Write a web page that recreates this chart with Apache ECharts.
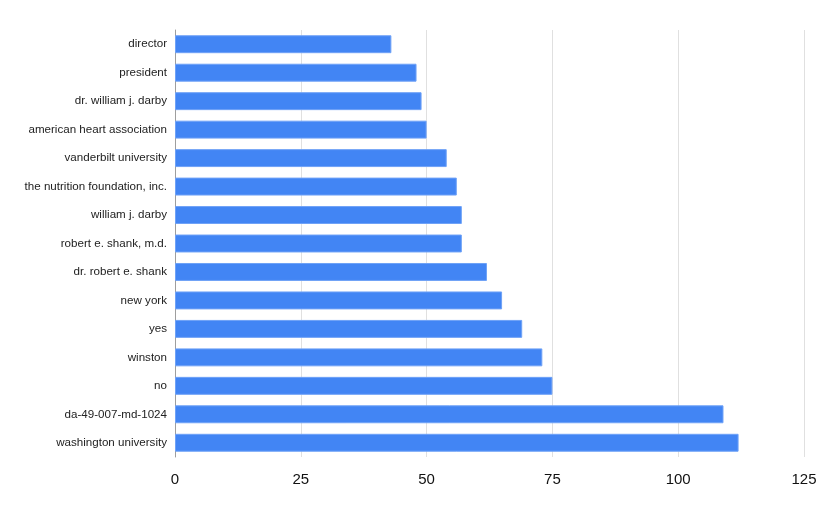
<!DOCTYPE html>
<html>
<head>
<meta charset="utf-8">
<script src="https://cdn.jsdelivr.net/npm/echarts@6/dist/echarts.min.js"></script>
<style>
  html, body { margin: 0; padding: 0; background: #fff; }
  #chart { width: 830px; height: 514px; }
</style>
</head>
<body>
<div id="chart"></div>
<script>
    // categories top to bottom
    const categories = [
        'director', 'president', 'dr. william j. darby', 'american heart association',
        'vanderbilt university', 'the nutrition foundation, inc.', 'william j. darby',
        'robert e. shank, m.d.', 'dr. robert e. shank', 'new york', 'yes', 'winston',
        'no', 'da-49-007-md-1024', 'washington university'
    ]
    const counts = [43, 48, 49, 50, 54, 56, 57, 57, 62, 65, 69, 73, 75, 109, 112]
    const xTicks = [0, 25, 50, 75, 100, 125]

    const option = {
        animation: false,
        grid: {
            left: 175,
            right: 26,
            top: 30,
            bottom: 57
        },
        xAxis: {
            type: 'value',
            min: xTicks[0],
            max: xTicks[xTicks.length - 1],
            interval: 25,
            axisLine: { show: false },
            axisTick: { show: false },
            axisLabel: {
                color: '#111',
                fontSize: 15,
                fontFamily: 'Liberation Sans, Arial, sans-serif',
                margin: 15
            },
            splitLine: {
                show: true,
                lineStyle: { color: '#e0e0e0', width: 1 }
            }
        },
        yAxis: {
            type: 'category',
            inverse: true,
            data: categories,
            axisTick: { show: false },
            axisLine: {
                show: true,
                lineStyle: { color: '#9e9e9e', width: 1 }
            },
            axisLabel: {
                color: '#222',
                fontSize: 11.6,
                fontFamily: 'Liberation Sans, Arial, sans-serif',
                margin: 8
            }
        },
        series: [{
            type: 'bar',
            data: counts,
            barCategoryGap: '37%',
            itemStyle: {
                color: '#4285f4',
                borderColor: '#6fa2f7',
                borderWidth: 1
            }
        }]
    };
    const myChart = echarts.init(document.getElementById('chart'));
    myChart.setOption(option);
    window.addEventListener('resize', () => {
        myChart.resize();
    })
</script>
</body>
</html>
